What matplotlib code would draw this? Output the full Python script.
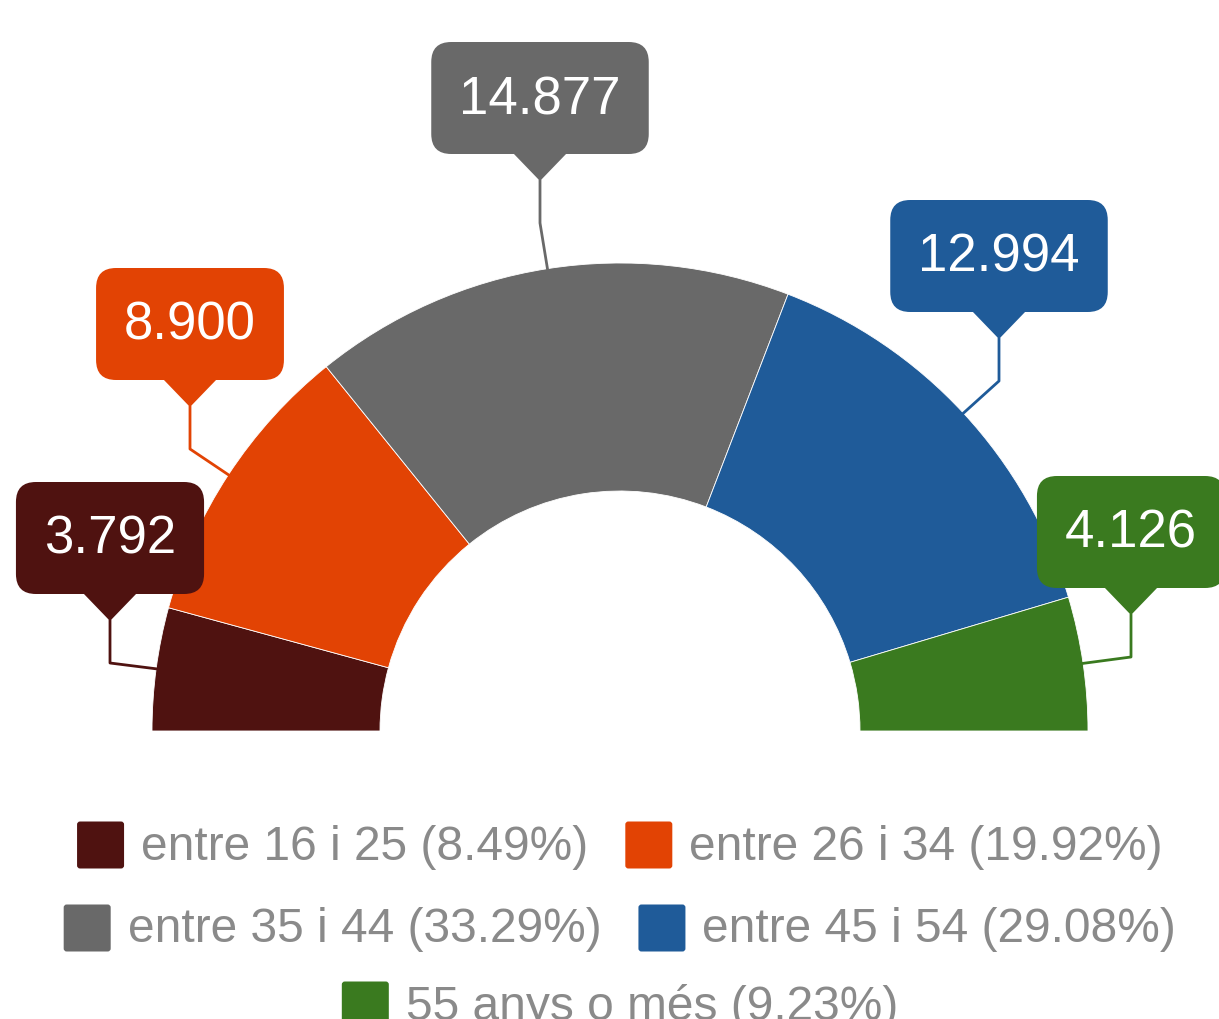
import numpy as np
import matplotlib
matplotlib.use("Agg")
import matplotlib.pyplot as plt
from matplotlib.patches import Wedge, FancyBboxPatch, Polygon

categories = ["entre 16 i 25", "entre 26 i 34", "entre 35 i 44", "entre 45 i 54", "55 anys o més"]
values = [3792, 8900, 14877, 12994, 4126]
value_labels = ["3.792", "8.900", "14.877", "12.994", "4.126"]
colors = ["#4f1210", "#e24304", "#696969", "#1f5b99", "#3a7a1f"]

# label box centres (pixels from top-left)
label_pos = [(110, 538), (190, 324), (540, 98), (999, 256), (1131, 532)]

plt.rcParams['font.family'] = ['Liberation Sans', 'DejaVu Sans']

W, H = 1219, 1019
fig = plt.figure(figsize=(W / 100, H / 100), dpi=100)
ax = fig.add_axes([0, 0, 1, 1])
ax.set_xlim(0, W)
ax.set_ylim(H, 0)
ax.axis('off')

cx, cy = 620, 731
r_out, r_in = 468, 240
total = sum(values)

renderer = fig.canvas.get_renderer()

theta = 180.0
for i, v in enumerate(values):
    span = 180.0 * v / total
    ax.add_patch(Wedge((cx, cy), r_out, theta, theta + span, width=r_out - r_in,
                       facecolor=colors[i], edgecolor='white', linewidth=0.6))
    mid = np.radians(theta + span / 2)
    ax_x = cx + r_out * np.cos(mid)
    ax_y = cy + r_out * np.sin(mid)
    theta += span

    lx, ly = label_pos[i]
    t = ax.text(lx, ly + 2, value_labels[i], color='white', fontsize=38,
                ha='center', va='center', zorder=5)
    bb = t.get_window_extent(renderer)
    bw, bh = bb.width + 56, 112
    ax.add_patch(FancyBboxPatch((lx - bw / 2, ly - bh / 2), bw, bh,
                                boxstyle="round,pad=0,rounding_size=20",
                                facecolor=colors[i], edgecolor='none', zorder=4))
    bot = ly + bh / 2
    tip = bot + 27
    ax.add_patch(Polygon([(lx - 27, bot - 1), (lx + 27, bot - 1), (lx, tip)],
                         closed=True, facecolor=colors[i], edgecolor='none', zorder=4))
    ax.plot([lx, lx, ax_x], [tip, tip + 42, ax_y], color=colors[i], lw=2, zorder=3)

# legend, centred rows
rows = [[0, 1], [2, 3], [4]]
row_y = [845, 928, 1005]
sq, gap, item_gap = 47, 17, 37
for row, y in zip(rows, row_y):
    items = []
    for i in row:
        txt = f"{categories[i]} ({values[i] / total * 100:.2f}%)"
        t = ax.text(0, y + 2, txt, color='#8a8a8a', fontsize=34.5, ha='left', va='center')
        w = t.get_window_extent(renderer).width
        items.append((i, t, w))
    row_w = sum(sq + gap + w for _, _, w in items) + item_gap * (len(items) - 1)
    x = cx - row_w / 2
    for i, t, w in items:
        ax.add_patch(FancyBboxPatch((x, y - sq / 2), sq, sq,
                                    boxstyle="round,pad=0,rounding_size=3",
                                    facecolor=colors[i], edgecolor='none'))
        t.set_x(x + sq + gap)
        x += sq + gap + w + item_gap

fig.savefig("out.png", dpi=100)
